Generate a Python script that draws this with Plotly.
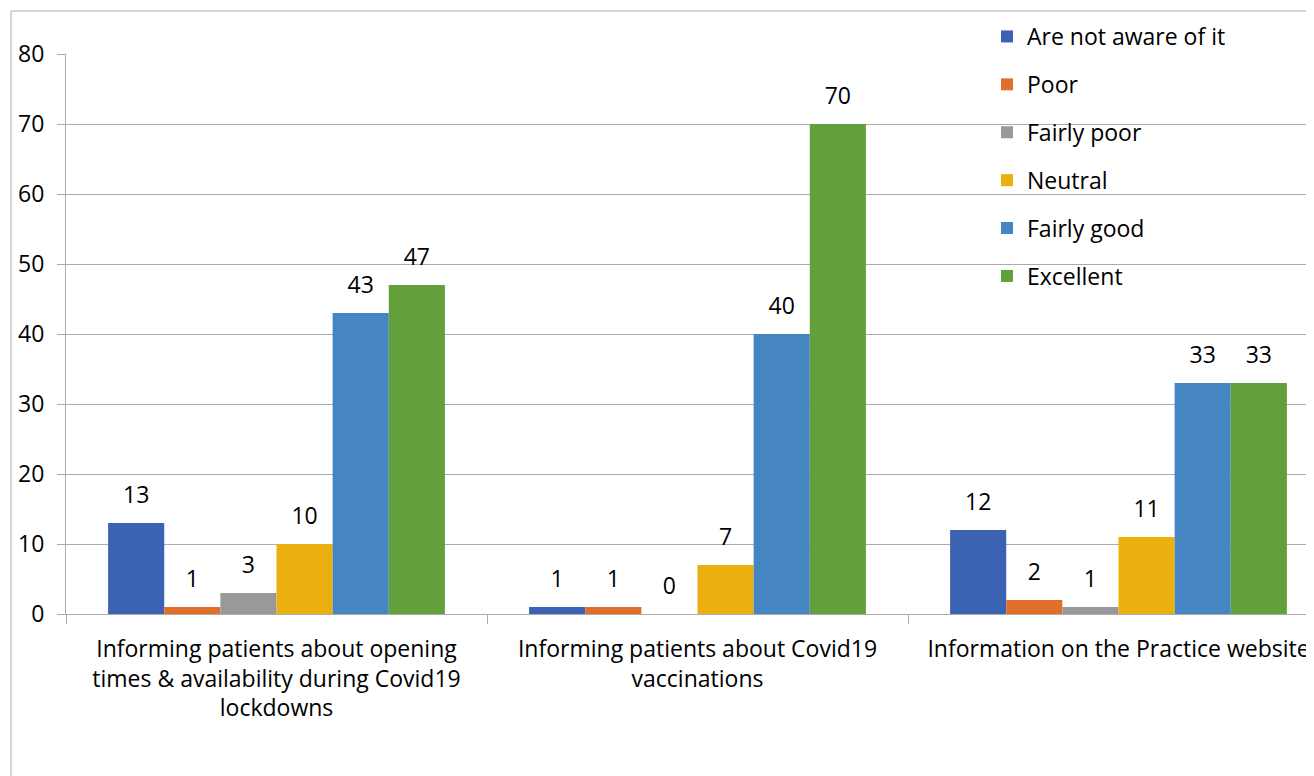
import plotly.graph_objects as go

categories = ["Opening times", "Covid19 vaccinations", "Practice website"]
tick_labels = [
    "Informing patients about opening<br>times & availability during Covid19<br>lockdowns",
    "Informing patients about Covid19<br>vaccinations",
    "Information on the Practice website",
]
series_names = ["Are not aware of it", "Poor", "Fairly poor", "Neutral", "Fairly good", "Excellent"]
not_aware = [13, 1, 12]
poor = [1, 1, 2]
fairly_poor = [3, 0, 1]
neutral = [10, 7, 11]
fairly_good = [43, 40, 33]
excellent = [47, 70, 33]
series_values = [not_aware, poor, fairly_poor, neutral, fairly_good, excellent]
colors = ["#3b62b3", "#df6f2b", "#999999", "#ebb010", "#4585c2", "#62a03b"]
y_ticks = [0, 10, 20, 30, 40, 50, 60, 70, 80]

FONT = "Open Sans, sans-serif"
FS = 23

fig = go.Figure()
for name, vals, col in zip(series_names, series_values, colors):
    fig.add_trace(go.Bar(
        name=name, x=categories, y=vals, offsetgroup=name,
        marker=dict(color=col, line=dict(width=0)),
        legendgroup=name,
    ))
# data labels, aligned with the grouped bars
for name, vals in zip(series_names, series_values):
    fig.add_trace(go.Scatter(
        x=categories, y=vals, offsetgroup=name, mode="markers+text",
        text=[str(v) for v in vals], textposition="top center",
        marker=dict(size=21, opacity=0), textfont=dict(size=FS, color="#000000", family=FONT),
        showlegend=False, hoverinfo="skip", cliponaxis=False,
    ))

OFF = 8  # page body margin
W, H = 1314 - OFF, 776 - OFF
L, R, T, B = 66 - OFF, 0, 54 - OFF, 162
pw = W - L - R
ph = H - T - B
cat_w = 421.0
ybot = T + ph  # figure px of plot bottom


def py(screen_y):
    return (ybot - (screen_y - OFF)) / ph


def px(screen_x):
    return ((screen_x - OFF) - L) / pw


fig.update_layout(
    width=W, height=H,
    margin=dict(l=L, r=R, t=T, b=B, pad=0),
    paper_bgcolor="white", plot_bgcolor="white",
    barmode="group", bargap=0.2, bargroupgap=0,
    scattermode="group", scattergap=0.2,
    font=dict(family=FONT, size=FS, color="#000000"),
    legend=dict(
        x=px(987), y=py(15), xanchor="left", yanchor="top",
        bgcolor="rgba(0,0,0,0)", font=dict(size=FS, family=FONT, color="#000000"),
        tracegroupgap=15, traceorder="grouped",
    ),
    showlegend=True,
)

fig.update_xaxes(
    type="category", tickvals=categories, ticktext=tick_labels,
    range=[-0.5, -0.5 + pw / cat_w],
    showline=True, linecolor="#ababab", linewidth=1,
    ticks="outside", ticklen=9, tickcolor="#ababab", tickson="boundaries",
    showgrid=False, ticklabelstandoff=14,
    tickfont=dict(size=FS, family=FONT, color="#000000"),
)
fig.update_yaxes(
    range=[0, 80], tickvals=y_ticks,
    showline=True, linecolor="#ababab", linewidth=1,
    ticks="outside", ticklen=8, tickcolor="#ababab",
    showgrid=True, gridcolor="#ababab", gridwidth=1,
    zeroline=False, ticklabelstandoff=8,
    tickfont=dict(size=FS, family=FONT, color="#000000"),
)

# outer chart border (cropped at right and bottom)
fig.add_shape(type="rect", xref="paper", yref="paper",
              x0=px(11), x1=1.05, y0=-0.5, y1=py(11),
              line=dict(color="#ababab", width=1), fillcolor="rgba(0,0,0,0)", layer="below")

fig.write_html("out.html")
